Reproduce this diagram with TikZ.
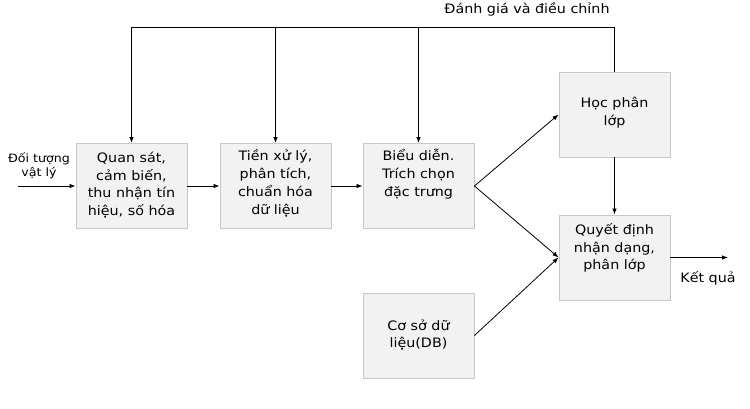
\documentclass[tikz,border=0pt]{standalone}
\usepackage{fontspec}
\setmainfont{DejaVu Sans}[FakeStretch=1.1]
\usetikzlibrary{arrows.meta}
\definecolor{boxfill}{RGB}{242,242,242}
\definecolor{boxline}{RGB}{200,200,200}
\begin{document}
\begin{tikzpicture}[x=1pt,y=-1pt,
  box/.style={draw=boxline, fill=boxfill, line width=0.9pt, minimum width=111pt, minimum height=85pt, inner sep=0pt},
  txt/.style={align=center, font=\fontsize{13}{17.8}\selectfont, inner sep=0pt},
  small/.style={align=center, font=\fontsize{11.5}{14}\selectfont, inner sep=0pt},
  conn/.style={line width=0.8pt, -{Latex[length=6pt,width=4.5pt]}},
  plain/.style={line width=0.8pt}]
\useasboundingbox (0,0) rectangle (750,409);
% boxes
\node[box] (b1) at (131.5,186) {};
\node[box] (b2) at (275.5,186) {};
\node[box] (b3) at (418.5,186) {};
\node[box] (b4) at (614.5,114.5) {};
\node[box] (b5) at (614.5,257.5) {};
\node[box] (b6) at (418.5,335.5) {};
% texts
\node[txt] (t1) at (131.5,185) {Quan sát,\\cảm biến,\\thu nhận tín\\hiệu, số hóa};
\node[txt] (t2) at (275.5,183) {Tiền xử lý,\\phân tích,\\chuẩn hóa\\dữ liệu};
\node[txt] (t3) at (418.5,174) {Biểu diễn.\\Trích chọn\\đặc trưng};
\node[txt] (t4) at (614.5,113) {Học phân\\lớp};
\node[txt] (t5) at (614.5,248) {Quyết định\\nhận dạng,\\phân lớp};
\node[txt] (t6) at (418.5,335) {Cơ sở dữ\\liệu(DB)};
% feedback
\coordinate (top4) at (614.5,27);
\coordinate (top1) at (b1.north |- top4);
\coordinate (top2) at (b2.north |- top4);
\coordinate (top3) at (b3.north |- top4);
\node[txt] (fbl) at (527,9) {Đánh giá và điều chỉnh};
\draw[conn] (b4.north) -- (top4) -- (top1) -- (b1.north);
\draw[conn] (top2) -- (b2.north);
\draw[conn] (top3) -- (b3.north);
% input
\coordinate (in) at (18,186);
\node[small] (inl) at (39,166) {Đối tượng\\vật lý};
\draw[conn] (in) -- (b1.west);
% main flow
\draw[conn] (b1.east) -- (b2.west);
\draw[conn] (b2.east) -- (b3.west);
\draw[conn] (b3.east) -- (b4.west);
\draw[conn] (b3.east) -- (b5.west);
\draw[conn] (b6.east) -- (b5.west);
\draw[conn] (b4.south) -- (b5.north);
% output
\coordinate (out) at (728,257.5);
\draw[conn] (b5.east) -- (out);
\node[txt] (outl) at (708,278) {Kết quả};
\end{tikzpicture}
\end{document}
